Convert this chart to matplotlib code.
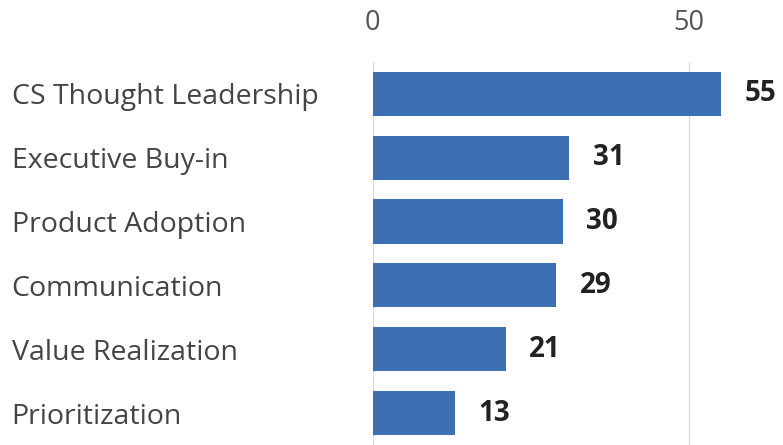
import matplotlib.pyplot as plt

categories = ['CS Thought Leadership', 'Executive Buy-in', 'Product Adoption',
              'Communication', 'Value Realization', 'Prioritization']
values = [55, 31, 30, 29, 21, 13]
xticks = [0, 50]

plt.rcParams['font.family'] = ['Open Sans', 'DejaVu Sans']

fig = plt.figure(figsize=(7.83, 4.45), dpi=100)
ax = fig.add_axes([0.476, 0.0, 0.485, 0.861])

y = range(len(categories))
ax.barh(y, values, height=0.69, color='#3d70b3', zorder=2)

# value labels right of each bar
for i, v in enumerate(values):
    ax.annotate(str(v), (v, i), xytext=(17, 0), textcoords='offset points',
                va='center', ha='left', fontsize=20, fontweight='bold', color='#222222')

ax.set_xlim(0, 60)
ax.set_ylim(5.5, -0.5)
ax.set_yticks(list(y))
ax.set_yticklabels(categories, fontsize=20.5, color='#444444')
ax.tick_params(axis='y', length=0, pad=260)
for lab in ax.get_yticklabels():
    lab.set_horizontalalignment('left')

ax.xaxis.tick_top()
ax.set_xticks(xticks)
ax.tick_params(axis='x', length=0, labelsize=19.5, labelcolor='#555555', pad=18)
ax.grid(axis='x', color='#dddddd', linewidth=1, zorder=0)

for s in ax.spines.values():
    s.set_visible(False)

fig.savefig('out.png', dpi=100)
